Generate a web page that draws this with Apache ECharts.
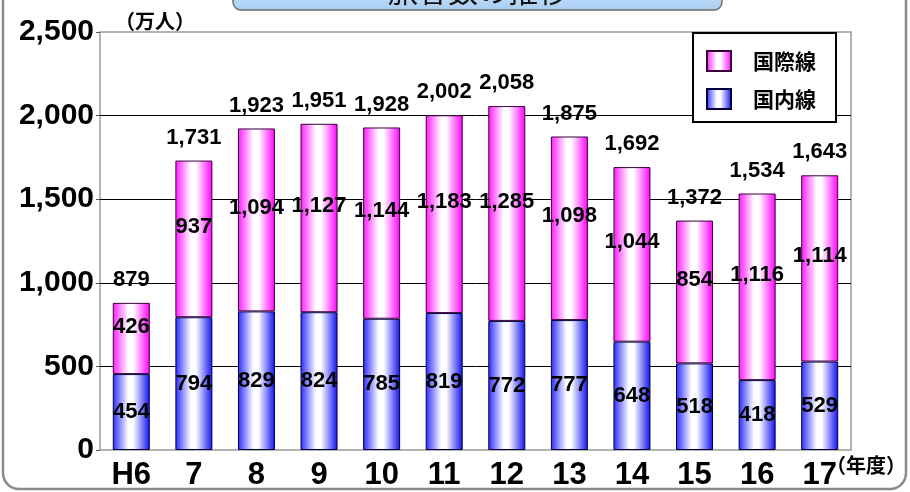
<!DOCTYPE html>
<html>
<head>
<meta charset="utf-8">
<script src="https://cdn.jsdelivr.net/npm/echarts@6/dist/echarts.min.js"></script>
<style>
  html, body { margin: 0; padding: 0; background: #ffffff; }
  #chart { width: 910px; height: 492px; }
</style>
</head>
<body>
<div id="chart"></div>
<script>
// 年度別の旅客数（万人）
const years = ['H6', '7', '8', '9', '10', '11', '12', '13', '14', '15', '16', '17'];
const domestic = [454, 794, 829, 824, 785, 819, 772, 777, 648, 518, 418, 529];
const international = [426, 937, 1094, 1127, 1144, 1183, 1285, 1098, 1044, 854, 1116, 1114];
const totals = [879, 1731, 1923, 1951, 1928, 2002, 2058, 1875, 1692, 1372, 1534, 1643];

const LATIN = '"Liberation Sans", Arial, sans-serif';
const CJK = '"Noto Sans CJK JP", "Noto Sans", sans-serif';

function withCommas(v) {
  return String(v).replace(/\B(?=(\d{3})+(?!\d))/g, ',');
}

function hGradient(edgeL, mid, edgeR) {
  return {
    type: 'linear', x: 0, y: 0, x2: 1, y2: 0,
    colorStops: [
      { offset: 0, color: edgeL },
      { offset: 0.42, color: mid },
      { offset: 0.55, color: mid },
      { offset: 1, color: edgeR }
    ]
  };
}

const pinkFill = hGradient('#ff1aff', '#ffffff', '#ff00ff');
const blueFill = hGradient('#2a2aff', '#ffffff', '#1010f0');

const valueLabel = {
  show: true,
  color: '#000',
  fontFamily: LATIN,
  fontWeight: 'bold',
  fontSize: 22,
  formatter: p => withCommas(p.value)
};

const chart = echarts.init(document.getElementById('chart'), null, { renderer: 'canvas' });

chart.setOption({
  backgroundColor: '#ffffff',
  animation: false,
  grid: {
    left: 100, right: 59, top: 32, bottom: 42,
    show: true, borderColor: '#9a9a9a', borderWidth: 1.5, backgroundColor: 'transparent'
  },
  legend: {
    data: ['国際線', '国内線'],
    orient: 'vertical',
    left: 693, top: 33,
    width: 143,
    padding: [17, 20, 12, 13],
    itemWidth: 24, itemHeight: 20, itemGap: 16,
    icon: 'rect',
    backgroundColor: '#ffffff',
    borderColor: '#000000',
    borderWidth: 2,
    textStyle: {
      fontFamily: CJK, fontWeight: 'bold', fontSize: 21, color: '#000',
      padding: [0, 0, 0, 17]
    },
    selectedMode: false
  },
  xAxis: {
    type: 'category',
    data: years,
    axisLine: { show: false },
    axisTick: { show: false },
    axisLabel: {
      color: '#000', fontFamily: LATIN, fontWeight: 'bold', fontSize: 31, margin: 10
    }
  },
  yAxis: {
    type: 'value',
    min: 0, max: 2500, interval: 500,
    axisLine: { show: false },
    axisTick: { show: true, length: 4, lineStyle: { color: '#555' } },
    axisLabel: {
      color: '#000', fontFamily: LATIN, fontWeight: 'bold', fontSize: 30, margin: 6,
      formatter: v => withCommas(v)
    },
    splitLine: {
      show: true, showMinLine: false, showMaxLine: false,
      lineStyle: { color: '#000', width: 1 }
    }
  },
  series: [
    {
      name: '国内線',
      type: 'bar',
      stack: 'passengers',
      barWidth: 37,
      data: domestic,
      itemStyle: { color: blueFill, borderColor: '#000040', borderWidth: 1 },
      label: Object.assign({ position: 'inside' }, valueLabel)
    },
    {
      name: '国際線',
      type: 'bar',
      stack: 'passengers',
      barWidth: 37,
      data: international,
      itemStyle: { color: pinkFill, borderColor: '#3a003a', borderWidth: 1 },
      label: Object.assign({ position: 'inside', offset: [0, -12] }, valueLabel)
    },
    {
      name: '合計',
      type: 'bar',
      barWidth: 37,
      barGap: '-100%',
      data: totals,
      z: 1,
      itemStyle: { color: 'rgba(0,0,0,0)', borderWidth: 0 },
      label: Object.assign({ position: 'top', distance: 12 }, valueLabel),
      emphasis: { disabled: true },
      silent: true
    }
  ],
  graphic: [
    {
      type: 'rect', z: 0, silent: true,
      shape: { x: 3, y: -30, width: 903, height: 519, r: 16 },
      style: { fill: 'none', stroke: '#8a8a8a', lineWidth: 2.5 }
    },
    {
      type: 'rect', z: 10, silent: true,
      shape: { x: 233, y: -30, width: 489, height: 40, r: 8 },
      style: {
        fill: {
          type: 'linear', x: 0, y: 0, x2: 0, y2: 1,
          colorStops: [{ offset: 0, color: '#eaf3fd' }, { offset: 1, color: '#a6cdf3' }]
        },
        stroke: '#6e6e6e', lineWidth: 1.5
      }
    },
    {
      type: 'text', z: 11, silent: true,
      x: 478, y: -9,
      style: {
        text: '旅客数の推移', fill: '#111',
        font: '30px ' + CJK, align: 'center', verticalAlign: 'middle'
      }
    },
    {
      type: 'text', z: 11, silent: true,
      x: 115, y: 21,
      style: {
        text: '（万人）', fill: '#000',
        font: 'bold 20px ' + CJK, align: 'left', verticalAlign: 'middle'
      }
    },
    {
      type: 'text', z: 11, silent: true,
      x: 826, y: 465,
      style: {
        text: '（年度）', fill: '#000',
        font: 'bold 20px ' + CJK, align: 'left', verticalAlign: 'middle'
      }
    }
  ]
});
</script>
</body>
</html>
